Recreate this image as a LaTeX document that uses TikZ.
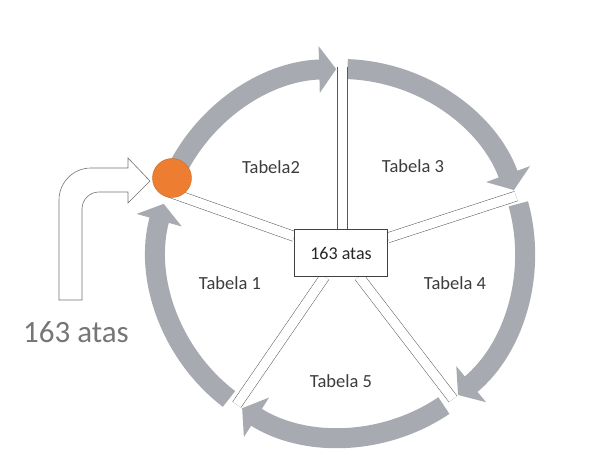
\documentclass[tikz,border=0pt]{standalone}
\usepackage{fontspec}
\setmainfont{Carlito}
\usepackage{xcolor}
\usepackage{tikz}
\usetikzlibrary{calc, arrows.meta}

\definecolor{anello}{RGB}{168,170,178}
\definecolor{arancio}{RGB}{237,125,49}
\definecolor{testo}{RGB}{60,60,60}
\definecolor{grigiotesto}{RGB}{118,118,118}

\begin{document}
\begin{tikzpicture}[
    x=1pt, y=1pt,
    arco/.style={line width=20pt, anello, -{Triangle[width=46pt, length=17pt]}},
    raggio/.style={draw=black!65, line width=0.5pt, double=white, double distance=9.5pt},
    etichetta/.style={text=testo, font=\fontsize{18.5}{20}\selectfont},
    scatola/.style={draw=black!75, fill=white, line width=0.6pt, minimum width=93pt, minimum height=47pt, inner sep=0pt, text=black!85, font=\fontsize{18}{20}\selectfont},
    punto/.style={circle, fill=arancio, draw=arancio!85!black, line width=0.4pt, minimum size=39pt, inner sep=0pt},
    freccia/.style={draw=black!55, line width=0.6pt, fill=white}
]

    % Area del disegno
    \useasboundingbox (0,0) rectangle (600,455);

    % Centro e raggio dell'anello
    \def\r{184}
    \coordinate (C) at (341,202);

    % 1. Disegno gli archi grigi (senso orario)
    \draw[arco] (C) ++(157:\r) arc[start angle=157, end angle=91.5, radius=\r];
    \draw[arco] (C) ++(88:\r) arc[start angle=88, end angle=20, radius=\r];
    \draw[arco] (C) ++(15.5:\r) arc[start angle=15.5, end angle=-50.5, radius=\r];
    \draw[arco] (C) ++(-56:\r) arc[start angle=-56, end angle=-122.5, radius=\r];
    \draw[arco] (C) ++(232.5:\r) arc[start angle=232.5, end angle=164.5, radius=\r];

    % 2. Estremi dei raggi sull'anello
    \coordinate (s1) at (342.5,388);
    \coordinate (s2) at ($(C)+(18:\r)$);
    \coordinate (s3) at ($(C)+(-52.5:\r)$);
    \coordinate (s4) at ($(C)+(235.5:\r)$);
    \coordinate (s5) at ($(C)+(160.5:\r)$);

    % 3. Scatola centrale e raggi
    \node[scatola] (box) at (C) {163 atas};
    \draw[raggio] (box.north -| s1) -- (s1);
    \draw[raggio] (box) -- (s2);
    \draw[raggio] (box) -- (s3);
    \draw[raggio] (box) -- (s4);
    \draw[raggio] (box) -- (s5);
    \node[scatola] at (C) {163 atas};

    % 4. Nomi delle tabelle
    \node[etichetta] (t1) at (230,172) {Tabela 1};
    \node[etichetta] (t2) at (271,288) {Tabela2};
    \node[etichetta] (t3) at (413,289) {Tabela 3};
    \node[etichetta] (t4) at (455,172) {Tabela 4};
    \node[etichetta] (t5) at (341,74) {Tabela 5};

    % 5. Freccia d'ingresso piegata
    \draw[freccia] (59,155) -- (59,255) arc[start angle=180, end angle=90, radius=32]
        -- (128,287) -- (128,297) -- (150,274) -- (128,252) -- (128,263)
        -- (99,263) arc[start angle=90, end angle=180, radius=17] -- (82,155) -- cycle;
    \node[text=grigiotesto, font=\fontsize{31}{34}\selectfont] (tot) at (76,123) {163 atas};

    % 6. Punto arancione di ingresso
    \node[punto] (dot) at (172,277) {};

\end{tikzpicture}
\end{document}
